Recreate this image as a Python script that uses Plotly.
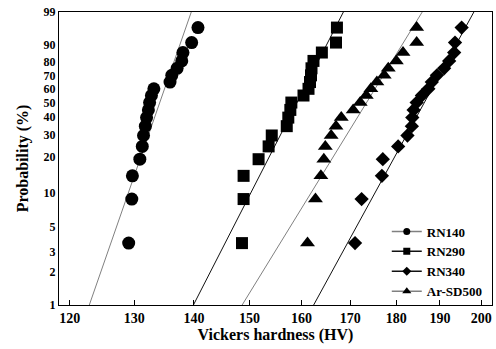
import numpy as np
import plotly.graph_objects as go

# Cumulative failure probability (%) of each ranked hardness value
prob = [3.6, 8.8, 13.9, 19.1, 24.2, 29.4, 34.5, 39.7, 44.8, 50.0,
        55.2, 60.3, 65.5, 70.6, 75.8, 80.9, 86.1, 91.2, 96.4]

rn140 = [129.1, 129.6, 129.7, 130.9, 131.3, 131.5, 131.8, 132.0, 132.3, 132.5,
         132.8, 133.2, 135.9, 136.2, 137.1, 137.9, 138.1, 139.6, 140.7]
rn290 = [148.6, 148.9, 148.9, 151.7, 153.6, 154.2, 157.1, 157.4, 157.8, 158.0,
         160.4, 161.4, 161.7, 161.9, 162.0, 162.4, 164.1, 167.0, 167.2]
rn340 = [171.0, 172.4, 176.8, 177.0, 180.4, 182.5, 183.5, 183.6, 183.9, 184.6,
         185.8, 187.3, 188.1, 189.3, 191.0, 192.2, 193.4, 193.6, 195.2]
arsd500 = [161.2, 162.8, 163.9, 164.5, 164.8, 166.0, 167.0, 168.1, 170.6, 172.1,
           173.4, 174.4, 175.7, 177.3, 178.2, 180.0, 181.5, 184.6, 184.6]

# Weibull fit parameters (shape m, scale eta)
names = ["RN140", "RN290", "RN340", "Ar-SD500"]
shape = [48.4, 32.9, 30.8, 27.4]
scale = [135.2, 160.9, 188.6, 175.8]

yticks = [1, 2, 3, 5, 10, 20, 30, 40, 50, 60, 70, 80, 90, 99]
xticks = [120, 130, 140, 150, 160, 170, 180, 190, 200]


def wb(p):
    p = np.asarray(p, dtype=float) / 100.0
    return np.log(-np.log(1.0 - p))


series = [rn140, rn290, rn340, arsd500]
symbols = ["circle", "square", "diamond", "triangle-up"]
msizes = [13, 12, 11, 13]
legend_sizes = [7, 7, 7, 8]
line_colors = ["#808080", "#111111", "#111111", "#808080"]

FONT = "Liberation Serif"
fig = go.Figure()

yb, yt = float(wb(1)), float(wb(99))

for i in range(4):
    # fitted Weibull line
    wl = np.array([yb, yt])
    xl = scale[i] * np.exp(wl / shape[i])
    fig.add_trace(go.Scatter(x=xl, y=wl, mode="lines",
                             line=dict(color=line_colors[i], width=1),
                             showlegend=False, hoverinfo="skip"))
for i in range(4):
    fig.add_trace(go.Scatter(x=series[i], y=wb(prob), mode="markers",
                             marker=dict(symbol=symbols[i], size=msizes[i], color="black",
                                         line=dict(width=0)),
                             showlegend=False, name=names[i]))
for i in range(4):
    fig.add_trace(go.Scatter(x=[None], y=[None], mode="lines+markers", name=names[i],
                             line=dict(color=line_colors[i], width=1.5),
                             marker=dict(symbol=symbols[i], size=legend_sizes[i], color="black")))

fig.update_layout(
    width=496, height=349,
    margin=dict(l=59, r=4, t=12, b=44),
    paper_bgcolor="white", plot_bgcolor="white",
    font=dict(family=FONT, size=14, color="black", weight="bold"),
    showlegend=True,
    legend=dict(x=0.757, xanchor="left", y=0.302, yanchor="top",
                bgcolor="rgba(0,0,0,0)", font=dict(family=FONT, size=13, weight="bold"),
                tracegroupgap=0),
)
fig.update_xaxes(type="log", range=[np.log10(118.4), np.log10(202.7)],
                 tickvals=xticks, ticktext=[str(v) for v in xticks],
                 ticks="inside", ticklen=5, tickcolor="black",
                 showline=True, linecolor="black", linewidth=1.2, mirror=True,
                 showgrid=False, zeroline=False,
                 tickfont=dict(family=FONT, size=14, weight="bold"),
                 title=dict(text="Vickers hardness (HV)", standoff=2,
                            font=dict(family=FONT, size=16, weight="bold")))
fig.update_yaxes(range=[yb, yt],
                 tickvals=list(wb(yticks)), ticktext=[str(v) for v in yticks],
                 ticks="", ticklen=0,
                 showline=True, linecolor="black", linewidth=1.2, mirror=True,
                 showgrid=False, zeroline=False,
                 tickfont=dict(family=FONT, size=12, weight="bold"),
                 title=dict(text="Probability (%)", standoff=10,
                            font=dict(family=FONT, size=16, weight="bold")))

fig.write_html("out.html", config={"displayModeBar": False},
               post_script="document.body.style.margin='0';document.body.style.overflow='hidden';")
